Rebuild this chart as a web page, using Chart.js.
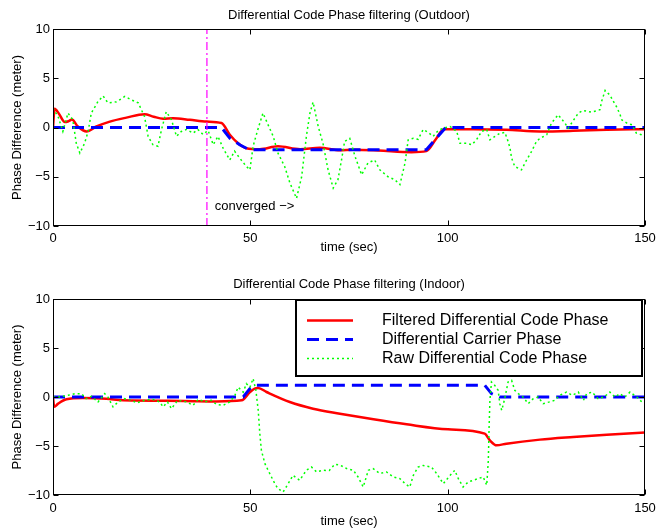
<!DOCTYPE html>
<html>
<head>
<meta charset="utf-8">
<script src="https://cdn.jsdelivr.net/npm/chart.js@4.4.0/dist/chart.umd.min.js"></script>
<style>
  html, body { margin: 0; padding: 0; background: #fff; }
  #wrap { position: relative; width: 667px; height: 529px; overflow: hidden; background: #fff; }
  .pane { position: absolute; left: 0; width: 667px; }
  #paneTop { top: 0; height: 262px; }
  #paneBot { top: 262px; height: 267px; }
</style>
</head>
<body>
<div id="wrap">
  <div class="pane" id="paneTop"><canvas id="outdoorChart"></canvas></div>
  <div class="pane" id="paneBot"><canvas id="indoorChart"></canvas></div>
</div>
<script>
// ---- axis ticks ----
const timeTicks = [0, 50, 100, 150];
const phaseTicks = [-10, -5, 0, 5, 10];

// ---- legend / series names ----
const seriesLabels = ['Filtered Differential Code Phase', 'Differential Carrier Phase', 'Raw Differential Code Phase'];

// ---- Outdoor: filtered differential code phase ----
const outdoorFilteredT = [0, 0.4, 1.5, 3.0, 4.0, 4.8, 6.3, 8.5, 11, 14.4, 18.6, 23.2, 25.5, 27.9, 30.4, 34.7, 38.9, 42.7, 44.8, 46.9, 49, 52.4, 57, 62.6, 67.6, 72.7, 76, 82.4, 90.8, 94.6, 97, 99.0, 106.5, 114.9, 123.4, 131.8, 140.3, 150];
const outdoorFilteredY = [0, 1.9, 1.4, 0.55, 0.65, 0.8, 0.1, -0.4, 0.1, 0.6, 1.0, 1.35, 1.1, 0.9, 0.95, 0.78, 0.6, 0.45, -0.74, -1.6, -2.1, -2.2, -1.9, -2.2, -2.05, -2.3, -2.25, -2.33, -2.5, -2.4, -1.2, -0.17, -0.17, -0.23, -0.4, -0.34, -0.23, -0.17];

// ---- Outdoor: differential carrier phase ----
const outdoorCarrierT = [0, 42.7, 44.8, 47.3, 49.7, 94.6, 99.5, 150];
const outdoorCarrierY = [0, 0, -1.08, -1.75, -2.26, -2.26, 0, 0];

// ---- Outdoor: raw differential code phase ----
const outdoorRawT = [0, 1.3, 2.5, 3.8, 5.0, 5.9, 6.8, 8.0, 8.9, 9.7, 11.4, 12.7, 13.9, 16.1, 18.2, 19.9, 21.6, 23.2, 24.1, 25.3, 26.6, 27.5, 28.7, 30.0, 31.3, 32.5, 33.8, 35.5, 36.7, 38.0, 39.3, 40.6, 41.8, 43.1, 44.8, 46.0, 47.3, 49.0, 49.9, 50.7, 52.0, 53.2, 54.5, 55.8, 57.0, 58.7, 60.0, 61.7, 63.0, 64.2, 65.1, 65.9, 67.2, 68.4, 69.7, 71.0, 72.2, 73.1, 73.9, 75.2, 76.5, 78.2, 79.8, 81.5, 82.8, 84.9, 86.6, 87.9, 89.2, 90.0, 91.3, 92.5, 93.8, 95.1, 96.3, 97.6, 98.9, 100.6, 102.3, 103.1, 104.8, 106.1, 107.3, 108.6, 109.9, 110.7, 112.0, 113.2, 114.5, 115.3, 115.8, 116.2, 117.0, 118.7, 120.0, 121.3, 122.5, 123.4, 125.1, 126.3, 128.0, 129.7, 130.5, 131.4, 133.1, 134.3, 136.4, 138.6, 139.0, 139.9, 141.1, 142.0, 142.8, 143.7, 144.1, 145.4, 146.7, 147.8, 149.1, 150];
const outdoorRawY = [1.97, 1.1, -0.4, 1.46, 0.8, -1.6, -2.6, -1.6, -0.4, 1.46, 2.64, 3.2, 2.5, 2.6, 3.15, 2.8, 2.5, 1.1, -0.9, -1.75, -1.9, -0.2, 1.6, 0.8, -0.9, -0.4, -0.2, -0.57, -0.2, -0.7, -0.3, -1.75, -0.9, -2.1, -3.3, -2.4, -3.1, -3.96, -4.3, -1.9, -0.07, 1.46, 0.27, -0.9, -2.6, -3.96, -5.6, -7.2, -5.0, -0.9, 1.46, 2.58, 0.1, -1.6, -4.3, -6.15, -5.3, -3.3, -1.4, -1.1, -2.9, -4.8, -3.6, -3.3, -4.3, -5.0, -5.3, -5.8, -3.6, -1.25, -1.1, -1.2, -0.2, -0.5, -0.9, -0.3, -0.07, 0.1, -0.4, -1.6, -1.6, -1.75, -1.25, -0.4, -0.2, -1.25, -0.9, -0.6, -0.5, -1.4, -2.1, -3.1, -3.96, -4.3, -3.3, -2.4, -1.4, -1.1, -0.74, 0.45, 1.29, 0.45, -0.07, 0.45, 1.46, 1.73, 1.56, 1.8, 2.64, 3.76, 3.3, 2.64, 2.1, 1.3, 0.78, 0.45, 0.27, -0.57, -0.74, -0.9];

// ---- Outdoor: filter convergence time (sec) ----
const convergedAt = 39;
const convergedLabel = 'converged \u2212>';
const convergedLabelPos = [41, -8.05];

// ---- Indoor: filtered differential code phase ----
const indoorFilteredT = [0, 0.3, 1.3, 3.4, 7.6, 13.5, 17.7, 33, 41.4, 47.8, 49.9, 51.1, 52, 54.1, 60, 65.9, 72.7, 81.2, 89.6, 100.1, 109.4, 110.7, 112.4, 114.9, 123.4, 131.8, 140.3, 150];
const indoorFilteredY = [0, -1.0, -0.68, -0.23, -0.1, -0.17, -0.34, -0.4, -0.45, -0.34, 0.5, 0.86, 0.92, 0.51, -0.51, -1.19, -1.7, -2.28, -2.79, -3.3, -3.74, -4.42, -4.93, -4.76, -4.35, -4.08, -3.84, -3.62];

// ---- Indoor: differential carrier phase ----
const indoorCarrierT = [0, 48.2, 49.9, 51.1, 109.4, 111.1, 113.2, 150];
const indoorCarrierY = [0, 0, 0.86, 1.2, 1.2, 0.35, 0, 0];

// ---- Indoor: raw differential code phase ----
const indoorRawT = [0, 1.5, 3.8, 5.5, 7.2, 8.4, 9.7, 11.4, 13.1, 13.9, 15.2, 16.5, 18.2, 19.9, 21.2, 23.5, 25.3, 27, 27.9, 29, 30, 31.6, 33.8, 35.5, 36.8, 38.5, 40.1, 41.4, 43.1, 44.8, 46.1, 46.9, 48.2, 49, 49.9, 50.7, 51.4, 52, 52.4, 52.8, 53.7, 54.9, 56.2, 57, 58.3, 59.6, 60.8, 62.5, 64.2, 65.5, 66.8, 68.4, 70, 71.4, 72.7, 74.4, 76.1, 77.3, 78.6, 79.9, 81.1, 82.8, 84.5, 86.2, 87.9, 89.2, 90.4, 91.3, 92.5, 93.8, 95.9, 97.2, 98.9, 100.6, 101.8, 102.7, 103.9, 105.2, 106.5, 107.7, 109, 109.9, 110.3, 110.5, 110.7, 111.1, 111.9, 112.8, 113.2, 113.7, 114.5, 115.3, 116.2, 117, 117.9, 119.1, 120.4, 121.6, 122.9, 124.2, 125.8, 127.1, 128.4, 130.1, 131.6, 133.1, 134.4, 135.2, 136.6, 138.1, 139.6, 141.1, 142.4, 143.6, 144.9, 146.2, 147.9, 149.2, 150];
const indoorRawY = [0, 0, 0.17, 0.34, 0.34, -0.17, 0.07, -0.51, 0.34, 0, -1.0, -0.5, -0.17, -0.34, -0.6, -0.3, -0.25, -0.5, -1.0, -0.5, -1.19, -0.34, -0.5, -0.85, -0.25, -0.5, -0.34, -0.75, -0.85, -0.5, 0.17, 1.0, 0.5, 1.36, 1.0, 1.88, 0.7, -1.36, -3.74, -5.44, -6.8, -7.8, -8.84, -9.35, -9.69, -8.84, -8.0, -8.5, -7.48, -7.15, -7.65, -7.48, -7.5, -6.87, -6.95, -7.3, -7.48, -8.16, -9.18, -7.48, -7.3, -7.8, -7.65, -8.16, -8.33, -8.84, -9.18, -8.0, -7.15, -6.98, -7.15, -7.8, -8.84, -8.0, -7.48, -8.33, -9.18, -8.67, -8.5, -8.33, -8.16, -9.0, -6.46, -3.06, -0.34, 1.53, 1.2, 0.68, -0.68, -1.36, -0.1, 1.53, 1.7, 0.68, 0.34, 0, -0.68, -0.2, 0, -0.68, -0.5, -0.34, 0.17, 0.5, 0.17, 0.5, -0.34, 0.34, 0.5, -0.17, 0, 0.5, 0, 0.34, 0, 0.5, 0, -0.5, -0.3];

// ---------------------------------------------------------------
const FONT = "'Liberation Sans', Arial, Helvetica, sans-serif";
Chart.defaults.color = '#000';
Chart.defaults.font.family = FONT;

function pairs(ts, ys) { return ts.map((t, i) => ({ x: t, y: ys[i] })); }
function phaseLabel(v) { return v < 0 ? '\u2212' + Math.abs(v) : String(v); }

const lineBase = { showLine: true, pointRadius: 0, pointHoverRadius: 0, fill: false, tension: 0 };
const styleFiltered = { borderColor: '#ff0000', borderWidth: 2.5, order: 3, cubicInterpolationMode: 'monotone' };
const styleCarrier  = { borderColor: '#0000ff', borderWidth: 3, borderDash: [12, 7], order: 2 };
const styleRaw      = { borderColor: '#00ff00', borderWidth: 1.5, borderDash: [2, 3], order: 1 };

function seriesSets(fT, fY, cT, cY, rT, rY) {
  return [
    Object.assign({ label: seriesLabels[0], data: pairs(fT, fY) }, lineBase, styleFiltered),
    Object.assign({ label: seriesLabels[1], data: pairs(cT, cY) }, lineBase, styleCarrier),
    Object.assign({ label: seriesLabels[2], data: pairs(rT, rY) }, lineBase, styleRaw)
  ];
}

// Box frame with inward tick marks on all four sides
const axesFrame = {
  id: 'axesFrame',
  afterDatasetsDraw(chart) {
    const { ctx, chartArea: a, scales: { x, y } } = chart;
    const L = Math.round(a.left) + 0.5, R = Math.round(a.right) - 0.5;
    const T = Math.round(a.top) + 0.5, B = Math.round(a.bottom) - 0.5;
    const len = 5;
    ctx.save();
    ctx.strokeStyle = '#000';
    ctx.lineWidth = 1;
    ctx.setLineDash([]);
    ctx.strokeRect(L, T, R - L, B - T);
    ctx.beginPath();
    x.ticks.forEach(t => {
      const px = Math.round(x.getPixelForValue(t.value)) + 0.5;
      ctx.moveTo(px, B); ctx.lineTo(px, B - len);
      ctx.moveTo(px, T); ctx.lineTo(px, T + len);
    });
    y.ticks.forEach(t => {
      const py = Math.round(y.getPixelForValue(t.value)) + 0.5;
      ctx.moveTo(L, py); ctx.lineTo(L + len, py);
      ctx.moveTo(R, py); ctx.lineTo(R - len, py);
    });
    ctx.stroke();
    ctx.restore();
  }
};

// Text note placed in data coordinates
const convergedNote = {
  id: 'convergedNote',
  afterDatasetsDraw(chart) {
    const { ctx, scales: { x, y } } = chart;
    ctx.save();
    ctx.fillStyle = '#000';
    ctx.font = '13px ' + FONT;
    ctx.textAlign = 'left';
    ctx.textBaseline = 'middle';
    ctx.fillText(convergedLabel, x.getPixelForValue(convergedLabelPos[0]), y.getPixelForValue(convergedLabelPos[1]));
    ctx.restore();
  }
};

// Boxed legend in the upper right corner of the plot area
const insetLegend = {
  id: 'insetLegend',
  afterDraw(chart) {
    const { ctx, chartArea: a } = chart;
    const w = 348, h = 78;
    const left = a.right - 2 - w, top = a.top;
    ctx.save();
    ctx.fillStyle = '#fff';
    ctx.fillRect(left, top, w, h);
    ctx.strokeStyle = '#000';
    ctx.lineWidth = 2;
    ctx.setLineDash([]);
    ctx.strokeRect(left + 1, top + 1, w - 2, h - 2);
    const sets = chart.data.datasets.filter(d => seriesLabels.includes(d.label));
    sets.forEach((d, i) => {
      const ry = Math.round(top + 21 + i * 19) + 0.5;
      ctx.beginPath();
      ctx.strokeStyle = d.borderColor;
      ctx.lineWidth = d.borderWidth;
      ctx.setLineDash(d.borderDash || []);
      ctx.moveTo(left + 12, ry);
      ctx.lineTo(left + 58, ry);
      ctx.stroke();
      ctx.setLineDash([]);
      ctx.fillStyle = '#000';
      ctx.font = '16px ' + FONT;
      ctx.textAlign = 'left';
      ctx.textBaseline = 'middle';
      ctx.fillText(d.label, left + 87, ry);
    });
    ctx.restore();
  }
};

function makeOptions(cfg) {
  return {
    responsive: true,
    maintainAspectRatio: false,
    animation: false,
    events: [],
    layout: { padding: { left: 0, right: 22, top: 0, bottom: 0 } },
    plugins: {
      legend: { display: false },
      tooltip: { enabled: false },
      title: {
        display: true, text: cfg.title, fullSize: false, color: '#000',
        font: { family: FONT, size: 13, weight: 'normal', lineHeight: 1.2 },
        padding: cfg.titlePad
      }
    },
    scales: {
      x: {
        type: 'linear', min: 0, max: 150,
        grid: { display: false, drawTicks: false },
        border: { display: false },
        afterBuildTicks: s => { s.ticks = timeTicks.map(v => ({ value: v })); },
        afterFit: s => { s.height = cfg.xHeight; },
        ticks: { color: '#000', font: { family: FONT, size: 13 }, padding: cfg.xTickPad, maxRotation: 0, autoSkip: false },
        title: { display: true, text: 'time (sec)', color: '#000', font: { family: FONT, size: 13, lineHeight: 1.2 }, padding: { top: 0, bottom: cfg.xTitlePad } }
      },
      y: {
        type: 'linear', min: -10, max: 10,
        grid: { display: false, drawTicks: false },
        border: { display: false },
        afterBuildTicks: s => { s.ticks = phaseTicks.map(v => ({ value: v })); },
        afterFit: s => { s.width = 53; },
        ticks: { color: '#000', font: { family: FONT, size: 13 }, padding: 3, autoSkip: false, callback: v => phaseLabel(v) },
        title: { display: true, text: 'Phase Difference (meter)', color: '#000', font: { family: FONT, size: 13, lineHeight: 1.2 }, padding: { top: 10, bottom: 0 } }
      }
    }
  };
}

// Outdoor run
const outdoorSets = seriesSets(outdoorFilteredT, outdoorFilteredY, outdoorCarrierT, outdoorCarrierY, outdoorRawT, outdoorRawY);
outdoorSets.push(Object.assign({
  label: 'converged',
  data: [{ x: convergedAt, y: -10 }, { x: convergedAt, y: 10 }],
  borderColor: '#ff00ff', borderWidth: 1.2, borderDash: [8, 3, 2, 3], order: 0
}, lineBase));

new Chart(document.getElementById('outdoorChart'), {
  type: 'scatter',
  data: { datasets: outdoorSets },
  options: makeOptions({
    title: 'Differential Code Phase filtering (Outdoor)',
    titlePad: { top: 7.2, bottom: 6.2 },
    xHeight: 36, xTickPad: 5, xTitlePad: 7.2
  }),
  plugins: [axesFrame, convergedNote]
});

// Indoor run
new Chart(document.getElementById('indoorChart'), {
  type: 'scatter',
  data: { datasets: seriesSets(indoorFilteredT, indoorFilteredY, indoorCarrierT, indoorCarrierY, indoorRawT, indoorRawY) },
  options: makeOptions({
    title: 'Differential Code Phase filtering (Indoor)',
    titlePad: { top: 14.2, bottom: 7.2 },
    xHeight: 34, xTickPad: 6, xTitlePad: 0
  }),
  plugins: [axesFrame, insetLegend]
});
</script>
</body>
</html>
